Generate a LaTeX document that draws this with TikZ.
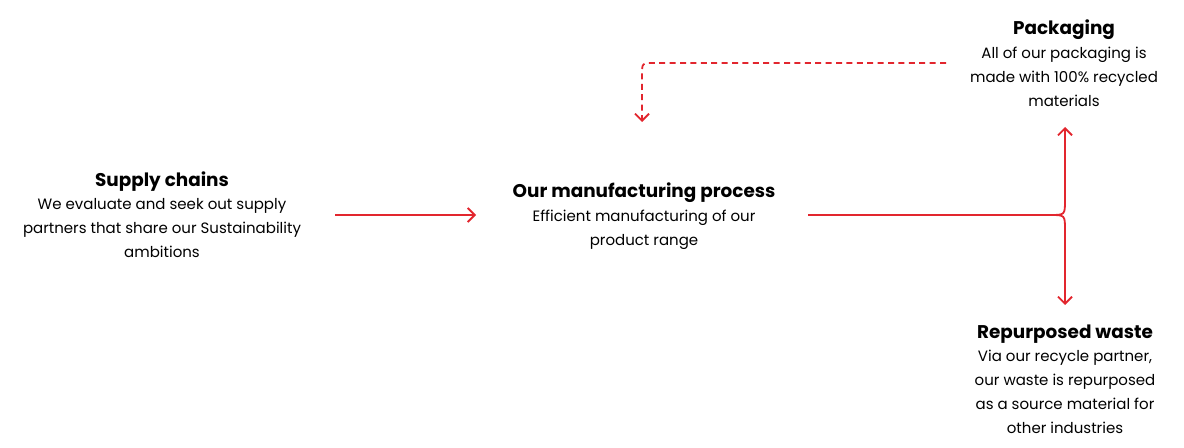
\documentclass[tikz,border=0pt]{standalone}
\usepackage{fontspec}
\setmainfont{Poppins}
\usetikzlibrary{arrows.meta}
\definecolor{flowred}{HTML}{E2262E}
\begin{document}
\begin{tikzpicture}[x=0.5pt, y=-0.5pt, every node/.style={font=\fontsize{7.5pt}{12pt}\selectfont, align=center, inner sep=0pt},
	head/.style={font=\fontsize{9.2pt}{12pt}\selectfont\bfseries},
	flow/.style={flowred, line width=0.9pt, -{Straight Barb[length=3.5pt, width=7pt]}},
	>={Straight Barb[length=3.5pt, width=7pt]}]
	\useasboundingbox (0,0) rectangle (1184,448);
	% titles and texts
	\node[head] (supplyhead) at (162,182) {Supply chains};
	\node[anchor=north] (supply) at (162,198) {We evaluate and seek out supply\\partners that share our Sustainability\\ambitions};
	\node[head] (makehead) at (644,193) {Our manufacturing process};
	\node[anchor=north] (make) at (644,210) {Efficient manufacturing of our\\product range};
	\node[head] (packhead) at (1064,30) {Packaging};
	\node[anchor=north] (pack) at (1064,47) {All of our packaging is\\made with 100\% recycled\\materials};
	\node[head] (wastehead) at (1065,334) {Repurposed waste};
	\node[anchor=north] (waste) at (1065,350) {Via our recycle partner,\\our waste is repurposed\\as a source material for\\other industries};
	% connector ends
	\coordinate (supplyout) at (335,215);
	\coordinate (makein) at (476,215);
	\coordinate (makeout) at (808,215);
	\coordinate (fork) at (1050,215);
	\coordinate (packin) at (1065,127);
	\coordinate (wastein) at (1065,305);
	\coordinate (packout) at (946,63);
	\coordinate (makeback) at (642,122);
	% connectors
	\draw[flow] (supplyout) -- (makein);
	\draw[flowred, line width=0.9pt] (makeout) -- (fork);
	\draw[flow] (fork) .. controls (1065,215) .. (1065,200) -- (packin);
	\draw[flow] (fork) .. controls (1065,215) .. (1065,230) -- (wastein);
	\draw[flow, dash pattern=on 3pt off 2.2pt] (packout) -- (654,63) .. controls (642,63) .. (642,75) -- (makeback);
\end{tikzpicture}
\end{document}
